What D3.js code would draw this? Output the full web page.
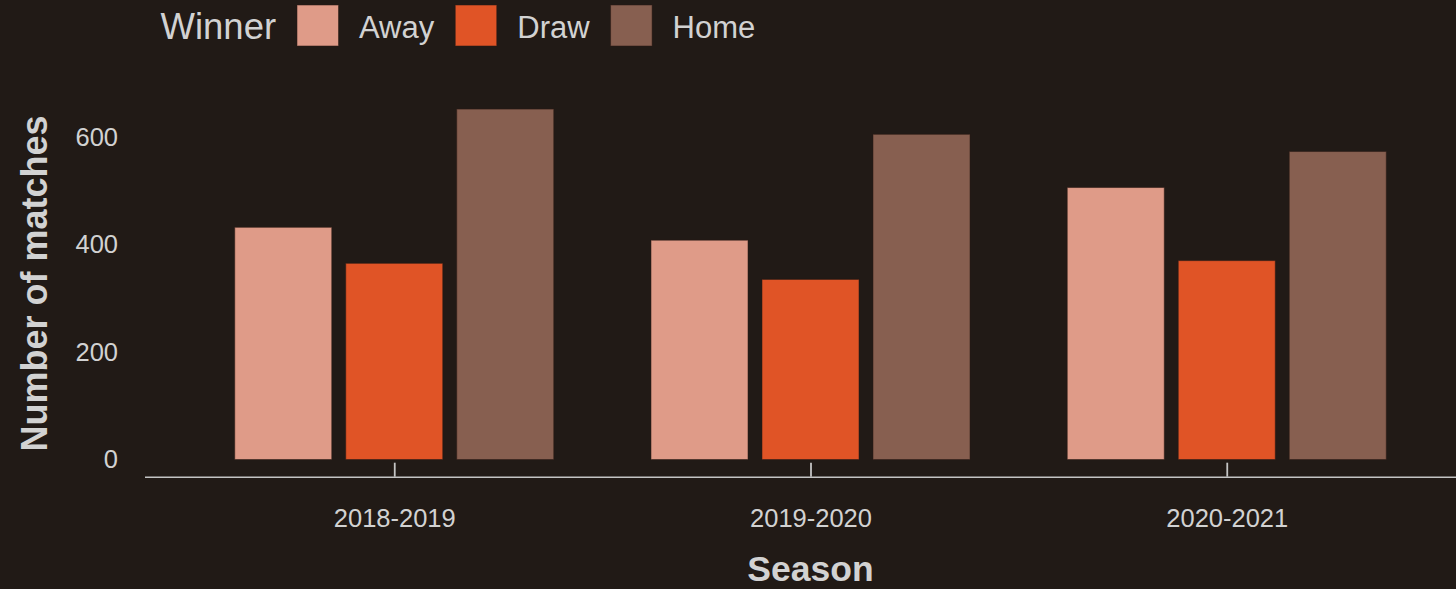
<!DOCTYPE html>
<html>
<head>
<meta charset="utf-8">
<script src="https://cdn.jsdelivr.net/npm/d3@7"></script>
<style>
  html, body { margin: 0; padding: 0; background: #211a16; }
  svg { display: block; }
  text { font-family: "Liberation Sans", Arial, Helvetica, sans-serif; }
</style>
</head>
<body>
<svg id="chart" width="1456" height="589"></svg>
<script>
const seasons = ["2018-2019", "2019-2020", "2020-2021"];
const winners = ["Away", "Draw", "Home"];
const awayWins = [432, 408, 506];
const draws = [365, 335, 370];
const homeWins = [652, 605, 573];
const yTicks = [0, 200, 400, 600];
const winnerColors = ["#df9b88", "#e05426", "#875f50"];

const seriesByWinner = { Away: awayWins, Draw: draws, Home: homeWins };
const rows = [];
seasons.forEach((s, i) => winners.forEach(w => rows.push({ season: s, winner: w, value: seriesByWinner[w][i] })));

const svg = d3.select("#chart");
const W = 1456, H = 589;
svg.append("rect").attr("width", W).attr("height", H).attr("fill", "#211a16");

const textColor = "#d2d2d2";

const x = d3.scalePoint().domain(seasons).range([144.5, 1476.5]).padding(0.6);
const groupW = x.step() * 0.8;
const xi = d3.scaleBand().domain(winners).range([-groupW / 2, groupW / 2]).paddingInner(0.126).paddingOuter(0.063);
const y = d3.scaleLinear().domain([0, 600]).range([459.5, 137]);
const color = d3.scaleOrdinal().domain(winners).range(winnerColors);

// bars
svg.append("g").selectAll("rect").data(rows).join("rect")
  .attr("x", d => x(d.season) + xi(d.winner))
  .attr("width", xi.bandwidth())
  .attr("y", d => y(d.value))
  .attr("height", d => y(0) - y(d.value))
  .attr("fill", d => color(d.winner))
  .attr("stroke", "rgba(45,28,22,0.55)")
  .attr("stroke-width", 1);

// y axis (labels only)
const yAxis = svg.append("g").attr("transform", "translate(118,0)")
  .call(d3.axisLeft(y).tickValues(yTicks).tickSize(0).tickPadding(0));
yAxis.select(".domain").remove();
yAxis.selectAll("text").attr("fill", textColor).attr("font-size", 25.5)
  .attr("font-family", '"Liberation Sans", Arial, sans-serif');

// x axis
const xAxis = svg.append("g").attr("transform", "translate(0,476.7)")
  .call(d3.axisBottom(x).tickSize(-14).tickSizeOuter(0).tickPadding(32));
xAxis.select(".domain").attr("stroke", "#c4c4c4").attr("stroke-width", 1.6);
xAxis.selectAll(".tick line").attr("stroke", "#c4c4c4").attr("stroke-width", 1.8);
xAxis.selectAll("text").attr("fill", textColor).attr("font-size", 25.5)
  .attr("font-family", '"Liberation Sans", Arial, sans-serif');

// axis titles
svg.append("text").attr("x", 810.5).attr("y", 581).attr("text-anchor", "middle")
  .attr("font-size", 35.5).attr("font-weight", "bold").attr("fill", textColor).text("Season");
svg.append("text").attr("transform", "translate(46.5,283.5) rotate(-90)").attr("text-anchor", "middle")
  .attr("font-size", 36).attr("font-weight", "bold").attr("fill", textColor).text("Number of matches");

// legend
const leg = svg.append("g");
const title = leg.append("text").attr("x", 160.5).attr("y", 39.3).attr("font-size", 36.5)
  .attr("fill", textColor).text("Winner");
let cx = 297;
winners.forEach(w => {
  leg.append("rect").attr("x", cx).attr("y", 5).attr("width", 41.5).attr("height", 41)
    .attr("fill", color(w)).attr("stroke", "rgba(45,28,22,0.55)").attr("stroke-width", 1);
  const t = leg.append("text").attr("x", cx + 62).attr("y", 37.5).attr("font-size", 31)
    .attr("fill", textColor).text(w);
  cx = cx + 62 + t.node().getComputedTextLength() + 21;
});
</script>
</body>
</html>
